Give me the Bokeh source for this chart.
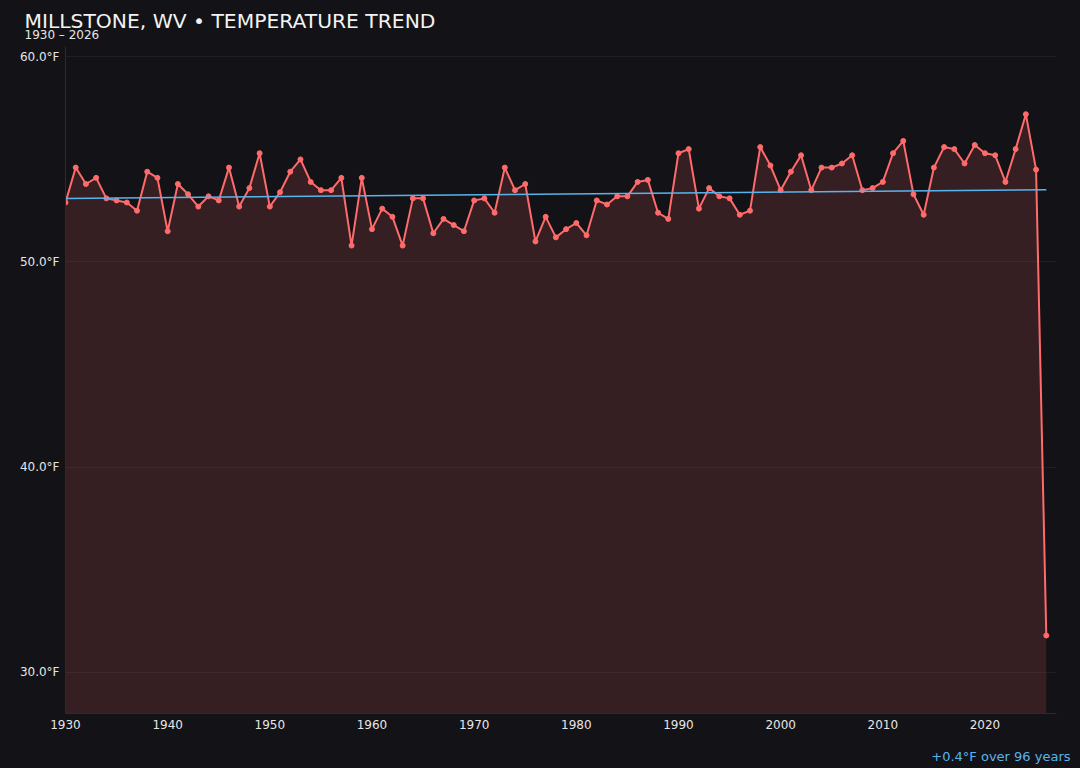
import numpy as np

from bokeh.embed import file_html
from bokeh.resources import INLINE
from bokeh.plotting import figure
from bokeh.models import Range1d, Title, LinearAxis, FixedTicker, SingleIntervalTicker, PrintfTickFormatter
from bokeh.models import GlobalInlineStyleSheet

# data
years = list(range(1930, 2027))
temps = [
	52.9, 54.6, 53.8, 54.1, 53.1, 53.0, 52.9, 52.5, 54.4, 54.1,
	51.5, 53.8, 53.3, 52.7, 53.2, 53.0, 54.6, 52.7, 53.6, 55.3,
	52.7, 53.4, 54.4, 55.0, 53.9, 53.5, 53.5, 54.1, 50.8, 54.1,
	51.6, 52.6, 52.2, 50.8, 53.1, 53.1, 51.4, 52.1, 51.8, 51.5,
	53.0, 53.1, 52.4, 54.6, 53.5, 53.8, 51.0, 52.2, 51.2, 51.6,
	51.9, 51.3, 53.0, 52.8, 53.2, 53.2, 53.9, 54.0, 52.4, 52.1,
	55.3, 55.5, 52.6, 53.6, 53.2, 53.1, 52.3, 52.5, 55.6, 54.7,
	53.5, 54.4, 55.2, 53.5, 54.6, 54.6, 54.8, 55.2, 53.5, 53.6,
	53.9, 55.3, 55.9, 53.3, 52.3, 54.6, 55.6, 55.5, 54.8, 55.7,
	55.3, 55.2, 53.9, 55.5, 57.2, 54.5, 31.8,
]
title_text = "MILLSTONE, WV \u2022 TEMPERATURE TREND"
subtitle_text = "1930 \u2013 2026"
trend_text = "+0.4\u00b0F over 96 years"

bg = "#131217"
red = "#ff6b6b"
blue = "#5ab4ec"
txt = "#e6e6e6"
font = "DejaVu Sans"

# linear trend
slope, icpt = np.polyfit(years, temps, 1)
trend_x = [years[0], years[-1]]
trend_y = [slope*trend_x[0] + icpt, slope*trend_x[1] + icpt]

p = figure(width=1080, height=768,
	x_range=Range1d(1930, 2027), y_range=Range1d(28, 60.5),
	output_backend="svg", toolbar_location=None)

p.background_fill_color = bg
p.border_fill_color = bg
p.outline_line_color = None

p.min_border_left = 65
p.min_border_right = 24
p.min_border_top = 46
p.min_border_bottom = 55

p.stylesheets = [GlobalInlineStyleSheet(css="html, body { background-color: #131217; }")]

# titles
sub = Title(text=subtitle_text, align="left", offset=-41, standoff=10,
	text_font=font, text_font_size="12px", text_font_style="normal", text_color=txt)
main = Title(text=title_text, align="left", offset=-41, standoff=-24,
	text_font=font, text_font_size="20.3px", text_font_style="normal", text_color="#f2f2f2")
p.add_layout(sub, "above")
p.add_layout(main, "above")

# spacer axis: one hidden tick, empty label, pushes the trend note down
spacer = LinearAxis(ticker=FixedTicker(ticks=[1930]), axis_line_color=None,
	major_tick_line_color=None, minor_tick_line_color=None,
	major_tick_in=0, major_tick_out=13, minor_tick_in=0, minor_tick_out=0,
	major_label_standoff=0, major_label_overrides={1930: ""})
p.add_layout(spacer, "below")

note = Title(text=trend_text, align="right", offset=-14, standoff=4,
	text_font=font, text_font_size="13px", text_font_style="normal", text_color=blue)
p.add_layout(note, "below")

# area + line
p.varea(x=years, y1=28, y2=temps, fill_color=red, fill_alpha=0.15)
p.line(years, temps, line_color=red, line_width=2)
p.scatter(years, temps, size=5, fill_color=red, line_color=red)
p.line(trend_x, trend_y, line_color=blue, line_width=1.5)

# axes
xax = p.xaxis[0]
yax = p.yaxis[0]
xax.ticker = SingleIntervalTicker(interval=10)
yax.ticker = SingleIntervalTicker(interval=10)
yax.formatter = PrintfTickFormatter(format="%.1f\u00b0F")

for ax in (xax, yax):
	ax.axis_line_color = "#2a2a31"
	ax.major_tick_in = 0
	ax.major_tick_out = 0
	ax.minor_tick_in = 0
	ax.minor_tick_out = 0
	ax.major_label_text_font = font
	ax.major_label_text_font_size = "12px"
	ax.major_label_text_color = txt
	ax.major_label_standoff = 6

p.xgrid.grid_line_color = None
p.ygrid.grid_line_color = "#ffffff"
p.ygrid.grid_line_alpha = 0.05

open("out.html", "w").write(file_html(p, INLINE))
